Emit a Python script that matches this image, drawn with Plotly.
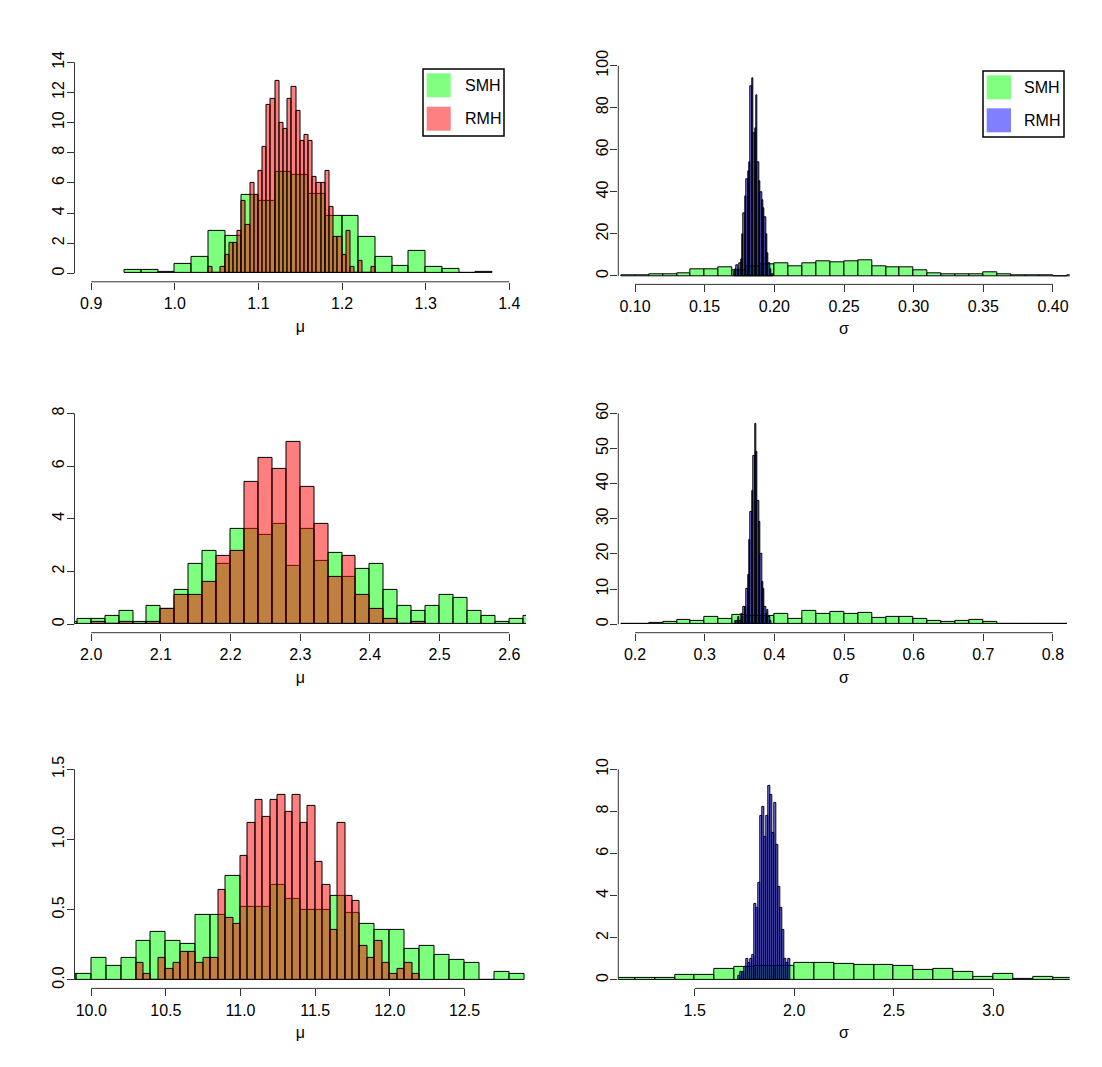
import numpy as np
import plotly.graph_objects as go

# ------------------------------------------------------------------ data
# Panel 1 : mu (top-left)
p1_smh_start, p1_smh_width = 0.94, 0.02
p1_smh = [0.2, 0.2, 0.1, 0.6, 1.1, 2.8, 2.5, 5.2, 4.8, 6.7, 6.5, 5.3, 3.8, 3.8,
          2.4, 1.1, 0.5, 1.5, 0.4, 0.3, 0.0, 0.1]
p1_rmh_start, p1_rmh_width = 1.04, 0.005
p1_rmh = [0.4, 0, 0, 0.4, 1.2, 2.0, 2.0, 2.8, 4.8, 3.2, 6.0, 5.2, 6.8, 8.4,
          11.2, 11.6, 12.8, 10.0, 9.6, 11.6, 12.4, 10.8, 8.8, 9.2, 8.8, 6.4,
          6.0, 6.0, 6.8, 4.4, 2.4, 2.4, 1.2, 2.8, 0.4, 0, 0.8, 0, 0, 0.4]

# Panel 2 : sigma (top-right)
p2_smh_start, p2_smh_width = 0.09, 0.01
p2_smh = [0.2, 0.3, 1.0, 0.7, 1.3, 3.2, 3.0, 4.1, 2.8, 4.6, 5.7, 6.0, 4.8, 6.0,
          7.0, 6.3, 7.0, 7.3, 4.6, 4.1, 4.1, 2.7, 1.3, 1.0, 0.8, 0.8, 1.7, 0.8,
          0.3, 0.3, 0.1, 0.0, 0.3]
p2_rmh_start, p2_rmh_width = 0.171, 0.001
p2_rmh = [2, 3, 5, 3, 6, 8, 20, 30, 38, 46, 50, 54, 90, 94, 68, 70, 86, 54,
          45, 40, 36, 32, 28, 20, 11, 6, 3, 1]

# Panel 3 : mu (middle-left)
p3_smh_start, p3_smh_width = 1.96, 0.02
p3_smh = [0.1, 0.2, 0.2, 0.3, 0.5, 0.1, 0.7, 0.6, 1.3, 2.3, 2.8, 2.3, 3.6, 3.6,
          3.4, 3.8, 2.2, 3.6, 2.4, 2.7, 1.8, 2.1, 2.3, 1.3, 0.7, 0.5, 0.7, 1.1,
          1.0, 0.5, 0.3, 0.1, 0.2, 0.3]
p3_rmh_start, p3_rmh_width = 2.00, 0.02
p3_rmh = [0.1, 0, 0.1, 0, 0.1, 0.6, 1.1, 1.1, 1.6, 2.6, 2.8, 5.4, 6.3, 5.9,
          6.9, 5.2, 3.8, 1.8, 2.6, 1.1, 0.6, 0.2, 0, 0.1]

# Panel 4 : sigma (middle-right)
p4_smh_start, p4_smh_width = 0.18, 0.02
p4_smh = [0, 0.1, 0.3, 0.6, 1.2, 1.0, 2.2, 1.5, 2.7, 2.4, 2.4, 3.0, 1.5, 3.8,
          3.0, 3.5, 3.0, 3.3, 1.9, 2.1, 2.2, 1.5, 0.9, 0.8, 1.0, 1.3, 0.6, 0.2,
          0.1, 0.1, 0, 0.2]
p4_rmh_start, p4_rmh_width = 0.344, 0.002
p4_rmh = [1, 1, 2, 1, 3, 2, 5, 5, 10, 14, 24, 32, 38, 48, 57, 49, 35, 29, 20,
          12, 10, 5, 3, 4, 2, 1]

# Panel 5 : mu (bottom-left)
p5_smh_start, p5_smh_width = 9.8, 0.1
p5_smh = [0.04, 0.04, 0.16, 0.10, 0.16, 0.28, 0.34, 0.28, 0.26, 0.46, 0.46,
          0.74, 0.52, 0.52, 0.68, 0.58, 0.50, 0.50, 0.60, 0.48, 0.40, 0.36,
          0.36, 0.22, 0.24, 0.18, 0.14, 0.12, 0.0, 0.06, 0.04]
p5_rmh_start, p5_rmh_width = 10.3, 0.05
p5_rmh = [0.12, 0.04, 0, 0.16, 0.08, 0.12, 0.2, 0.2, 0.12, 0.16, 0.16, 0.64,
          0.44, 0.4, 0.88, 1.12, 1.28, 1.16, 1.28, 1.32, 1.2, 1.32, 1.12, 1.24,
          0.84, 0.68, 0.36, 1.12, 0.6, 0.56, 0.24, 0.16, 0.28, 0.12, 0.04,
          0.08, 0.12, 0.04]

# Panel 6 : sigma (bottom-right)
p6_smh_start, p6_smh_width = 1.1, 0.1
p6_smh = [0.11, 0.08, 0.11, 0.22, 0.22, 0.54, 0.60, 0.66, 0.66, 0.79, 0.79,
          0.78, 0.71, 0.71, 0.65, 0.48, 0.51, 0.36, 0.13, 0.28, 0.03, 0.16, 0.08]
p6_rmh_start, p6_rmh_width = 1.72, 0.01
p6_rmh = [0.2, 0.4, 0.4, 0.6, 1.0, 0.8, 1.0, 1.2, 3.6, 3.4, 4.6, 7.8, 8.2, 6.8,
          7.8, 9.2, 8.8, 7.0, 8.4, 6.4, 4.4, 3.4, 2.4, 1.0, 0.8, 1.0]

# axis limits (R xlim / ylim) and tick labels
p1_xlim, p1_ylim = [0.9, 1.4], [0, 14]
p2_xlim, p2_ylim = [0.10, 0.40], [0, 100]
p3_xlim, p3_ylim = [2.0, 2.6], [0, 8]
p4_xlim, p4_ylim = [0.2, 0.8], [0, 60]
p5_xlim, p5_ylim = [10.0, 12.8], [0, 1.5]
p6_xlim, p6_ylim = [1.2, 3.3], [0, 10]

p1_xticks = ["0.9", "1.0", "1.1", "1.2", "1.3", "1.4"]
p1_yticks = ["0", "2", "4", "6", "8", "10", "12", "14"]
p2_xticks = ["0.10", "0.15", "0.20", "0.25", "0.30", "0.35", "0.40"]
p2_yticks = ["0", "20", "40", "60", "80", "100"]
p3_xticks = ["2.0", "2.1", "2.2", "2.3", "2.4", "2.5", "2.6"]
p3_yticks = ["0", "2", "4", "6", "8"]
p4_xticks = ["0.2", "0.3", "0.4", "0.5", "0.6", "0.7", "0.8"]
p4_yticks = ["0", "10", "20", "30", "40", "50", "60"]
p5_xticks = ["10.0", "10.5", "11.0", "11.5", "12.0", "12.5"]
p5_yticks = ["0.0", "0.5", "1.0", "1.5"]
p6_xticks = ["1.5", "2.0", "2.5", "3.0"]
p6_yticks = ["0", "2", "4", "6", "8", "10"]

series_names = ["SMH", "RMH"]
axis_titles = ["μ", "σ"]

# ------------------------------------------------------------------ style
W, H = 1102, 1067
FONT = "Liberation Sans, Arial, Helvetica, sans-serif"
GREEN = "rgba(0,255,0,0.5)"
RED = "rgba(255,0,0,0.5)"
BLUE = "rgba(0,0,255,0.5)"
LEG_GREEN, LEG_RED, LEG_BLUE = "#80ff80", "#ff8080", "#8080ff"
AXC = "#333333"
FS = 16


def fx(px):
    return px / W


def fy(py):
    return 1 - py / H


def padded(lim):
    d = (lim[1] - lim[0]) * 0.04
    return [lim[0] - d, lim[1] + d]


panels = [
    dict(xd=(74.5, 526), yd=(53.9, 281.8), xlim=p1_xlim, ylim=p1_ylim,
         xt=p1_xticks, yt=p1_yticks, title=axis_titles[0],
         smh=(p1_smh_start, p1_smh_width, p1_smh),
         rmh=(p1_rmh_start, p1_rmh_width, p1_rmh), rcol=RED,
         legend=dict(box=(423, 69, 504, 136), sq=(426.7, 450.7),
                     rows=(73.3, 106.7), tx=463, col2=LEG_RED)),
    dict(xd=(618.3, 1069.7), yd=(57.3, 284.4), xlim=p2_xlim, ylim=p2_ylim,
         xt=p2_xticks, yt=p2_yticks, title=axis_titles[1],
         smh=(p2_smh_start, p2_smh_width, p2_smh),
         rmh=(p2_rmh_start, p2_rmh_width, p2_rmh), rcol=BLUE,
         legend=dict(box=(983, 71, 1064, 137), sq=(986.7, 1011),
                     rows=(75.3, 108.3), tx=1022, col2=LEG_BLUE)),
    dict(xd=(74.5, 526), yd=(404.9, 632.7), xlim=p3_xlim, ylim=p3_ylim,
         xt=p3_xticks, yt=p3_yticks, title=axis_titles[0],
         smh=(p3_smh_start, p3_smh_width, p3_smh),
         rmh=(p3_rmh_start, p3_rmh_width, p3_rmh), rcol=RED, legend=None),
    dict(xd=(618.3, 1069.7), yd=(404.9, 632.7), xlim=p4_xlim, ylim=p4_ylim,
         xt=p4_xticks, yt=p4_yticks, title=axis_titles[1],
         smh=(p4_smh_start, p4_smh_width, p4_smh),
         rmh=(p4_rmh_start, p4_rmh_width, p4_rmh), rcol=BLUE, legend=None),
    dict(xd=(74.5, 526), yd=(760.9, 988.4), xlim=p5_xlim, ylim=p5_ylim,
         xt=p5_xticks, yt=p5_yticks, title=axis_titles[0],
         smh=(p5_smh_start, p5_smh_width, p5_smh),
         rmh=(p5_rmh_start, p5_rmh_width, p5_rmh), rcol=RED, legend=None),
    dict(xd=(618.3, 1069.7), yd=(760.9, 988.4), xlim=p6_xlim, ylim=p6_ylim,
         xt=p6_xticks, yt=p6_yticks, title=axis_titles[1],
         smh=(p6_smh_start, p6_smh_width, p6_smh),
         rmh=(p6_rmh_start, p6_rmh_width, p6_rmh), rcol=BLUE, legend=None),
]

fig = go.Figure()
shapes, annotations = [], []
layout_axes = {}

for i, p in enumerate(panels, start=1):
    xa = "x" if i == 1 else f"x{i}"
    ya = "y" if i == 1 else f"y{i}"
    for (start, width, vals), col, name in ((p["smh"], GREEN, series_names[0]),
                                            (p["rmh"], p["rcol"], series_names[1])):
        vals = np.asarray(vals, dtype=float)
        centers = start + width * (np.arange(len(vals)) + 0.5)
        fig.add_trace(go.Bar(
            x=centers, y=vals, width=width, name=name, showlegend=False,
            marker=dict(color=col, line=dict(color="black", width=1)),
            xaxis=xa, yaxis=ya, hovertemplate="%{x}: %{y}<extra>" + name + "</extra>"))

    xtv = [float(t) for t in p["xt"]]
    ytv = [float(t) for t in p["yt"]]
    common = dict(showgrid=False, zeroline=False, showline=False,
                  ticks="outside", ticklen=7, tickwidth=1, tickcolor=AXC,
                  tickfont=dict(family=FONT, size=FS, color="black"),
                  automargin=False)
    layout_axes["xaxis" if i == 1 else f"xaxis{i}"] = dict(
        common, domain=[fx(p["xd"][0]), fx(p["xd"][1])], range=padded(p["xlim"]),
        anchor=ya, tickvals=xtv, ticktext=p["xt"], ticklabelstandoff=0,
        title=dict(text=p["title"], font=dict(family=FONT, size=FS, color="black"),
                   standoff=9))
    layout_axes["yaxis" if i == 1 else f"yaxis{i}"] = dict(
        common, domain=[fy(p["yd"][1]), fy(p["yd"][0])], range=padded(p["ylim"]),
        anchor=xa, tickvals=ytv, ticktext=p["yt"], tickangle=-90,
        ticklabelstandoff=-4)

    # R-style axis lines spanning first..last tick
    shapes.append(dict(type="line", xref=xa, yref=f"{ya} domain",
                       x0=xtv[0], x1=xtv[-1], y0=0, y1=0,
                       line=dict(color=AXC, width=1)))
    shapes.append(dict(type="line", xref=f"{xa} domain", yref=ya,
                       x0=0, x1=0, y0=ytv[0], y1=ytv[-1],
                       line=dict(color=AXC, width=1)))

    lg = p["legend"]
    if lg:
        bx0, by0, bx1, by1 = lg["box"]
        shapes.append(dict(type="rect", xref="paper", yref="paper",
                           x0=fx(bx0), x1=fx(bx1), y0=fy(by1), y1=fy(by0),
                           line=dict(color="black", width=1.5),
                           fillcolor="white", layer="above"))
        for ry, c, lab in zip(lg["rows"], (LEG_GREEN, lg["col2"]), series_names):
            shapes.append(dict(type="rect", xref="paper", yref="paper",
                               x0=fx(lg["sq"][0]), x1=fx(lg["sq"][1]),
                               y0=fy(ry + 24), y1=fy(ry), line=dict(width=0),
                               fillcolor=c, layer="above"))
            annotations.append(dict(xref="paper", yref="paper", x=fx(lg["tx"]),
                                    y=fy(ry + 12), text=lab, showarrow=False,
                                    xanchor="left", yanchor="middle",
                                    font=dict(family=FONT, size=FS, color="black")))

fig.update_layout(
    width=W, height=H, margin=dict(l=0, r=0, t=0, b=0),
    paper_bgcolor="white", plot_bgcolor="white", barmode="overlay",
    bargap=0, shapes=shapes, annotations=annotations, showlegend=False,
    font=dict(family=FONT, size=FS, color="black"), **layout_axes)

fig.write_html("out.html")
